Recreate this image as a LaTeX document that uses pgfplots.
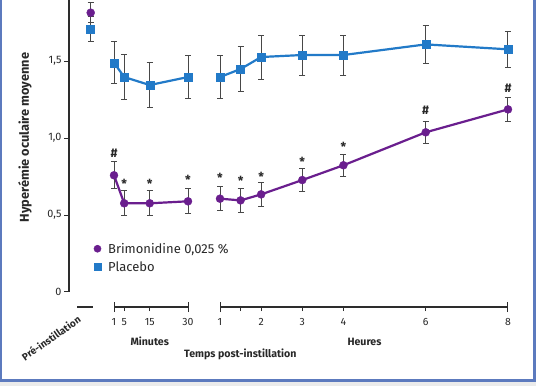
\documentclass[border=0pt]{standalone}
\usepackage{fontspec}
\setmainfont{Fira Sans}
\usepackage{pgfplots}
\pgfplotsset{compat=1.18}
\definecolor{brim}{RGB}{106,30,142}
\definecolor{plac}{RGB}{34,122,200}
\definecolor{errc}{RGB}{72,72,72}
\definecolor{axc}{RGB}{45,45,45}
\definecolor{txtc}{RGB}{40,40,40}
\definecolor{framec}{RGB}{92,122,190}
\pgfplotsset{
  brimst/.style={color=brim, line width=2.2pt, mark=*, mark size=4pt,
    mark options={solid, fill=brim, draw=brim, line width=0.4pt},
    error bars/.cd, y dir=both, y explicit,
    error bar style={errc, line width=1pt},
    error mark options={errc, line width=1pt, mark size=3pt, rotate=90}},
  placst/.style={color=plac, line width=2.2pt, mark=square*, mark size=4pt,
    mark options={solid, fill=plac, draw=plac, line width=0.4pt},
    error bars/.cd, y dir=both, y explicit,
    error bar style={errc, line width=1pt},
    error mark options={errc, line width=1pt, mark size=3pt, rotate=90}},
  segaxis/.style={scale only axis, clip=false, anchor=south west,
    ymin=-0.0974, ymax=1.895, height=306.8pt,
    axis y line=none, axis x line=bottom,
    x axis line style={-, axc, line width=1.1pt},
    xtick align=outside, major tick length=4pt,
    tick style={axc, line width=1pt},
    ytick=\empty,
    tick label style={font=\fontsize{10.5}{12}\selectfont, text=txtc},
    xticklabel style={yshift=-4pt},
    /pgf/number format/assume math mode=true}
}
\tikzset{ann/.style={font=\bfseries\fontsize{12.5}{14}\selectfont, text=txtc},
  lab/.style={font=\bfseries\fontsize{10.6}{12}\selectfont, text=txtc}}
\begin{document}
\begin{tikzpicture}[x=1pt,y=1pt]
\useasboundingbox (0,0) rectangle (536,386);
\fill[white] (0,0) rectangle (536,386);
\fill[black!8] (0,0) rectangle (536,4.3);
\fill[framec] (0,4.3) rectangle (536,6.7);
\fill[framec] (0,4.3) rectangle (2.4,386);
\fill[framec] (533.4,4.3) rectangle (536,386);

% y axis and legend
\begin{axis}[scale only axis, clip=false, anchor=south west, at={(69pt,94pt)},
  xmin=69, xmax=536, width=467pt, ymin=0, ymax=1.895, height=291.8pt,
  axis x line=none, axis y line=left,
  y axis line style={-, axc, line width=1.1pt},
  ytick={0,0.5,1,1.5}, yticklabels={0,{0,5},{1,0},{1,5}},
  ytick align=outside, major tick length=5pt,
  tick style={axc, line width=1pt},
  tick label style={font=\fontsize{10.8}{12}\selectfont, text=txtc},
  yticklabel style={xshift=1pt},
  /pgf/number format/assume math mode=true,
  legend style={draw=none, fill=none, at={(axis cs:93.7,0.333)}, anchor=north west,
    font=\fontsize{13}{15}\selectfont, text=txtc, row sep=3pt, column sep=5pt,
    inner sep=0pt},
  legend cell align=left,
  legend image code/.code={\draw[#1] plot coordinates {(0pt,0pt)};}
]
\addlegendimage{only marks, mark=*, mark size=3.6pt, color=brim, fill=brim}
\addlegendentry{Brimonidine 0,025 \%}
\addlegendimage{only marks, mark=square*, mark size=3.5pt, color=plac, fill=plac}
\addlegendentry{Placebo}
\end{axis}

% pre-instillation
\begin{axis}[segaxis, at={(77.3pt,79pt)}, xmin=0, xmax=1, width=15.4pt, xtick=\empty]
\addplot[placst] coordinates {(0.87,1.708) +- (0,0.083)};
\addplot[brimst] coordinates {(0.87,1.814) +- (0,0.065)};
\end{axis}

% minutes
\begin{axis}[segaxis, at={(114pt,79pt)}, xmin=1, xmax=30, width=74pt,
  xtick={1,5,15,30},
  extra x ticks={1,30}, extra x tick labels={},
  extra x tick style={xtick align=center, major tick length=10pt}]
\addplot[placst] coordinates {(1,1.489) +- (0,0.137) (5,1.396) +- (0,0.147)
  (15,1.344) +- (0,0.146) (30,1.396) +- (0,0.142)};
\addplot[brimst] coordinates {(1,0.758) +- (0,0.088) (5,0.576) +- (0,0.08)
  (15,0.576) +- (0,0.08) (30,0.589) +- (0,0.08)};
\node[ann] at (axis cs:1,0.90) {\#};
\node[ann, yshift=-2.5pt] at (axis cs:5,0.716) {*};
\node[ann, yshift=-2.5pt] at (axis cs:15,0.716) {*};
\node[ann, yshift=-2.5pt] at (axis cs:30,0.742) {*};
\end{axis}

% hours
\begin{axis}[segaxis, at={(220pt,79pt)}, xmin=1, xmax=8, width=288pt,
  xtick={1,1.5,2,3,4,6,8}, xticklabels={1,,2,3,4,6,8},
  extra x ticks={1,8}, extra x tick labels={},
  extra x tick style={xtick align=center, major tick length=10pt}]
\addplot[placst] coordinates {(1,1.396) +- (0,0.142) (1.5,1.448) +- (0,0.149)
  (2,1.526) +- (0,0.143) (3,1.539) +- (0,0.13) (4,1.539) +- (0,0.13)
  (6,1.608) +- (0,0.122) (8,1.576) +- (0,0.115)};
\addplot[brimst] coordinates {(1,0.606) +- (0,0.078) (1.5,0.595) +- (0,0.076)
  (2,0.634) +- (0,0.076) (3,0.727) +- (0,0.073) (4,0.823) +- (0,0.073)
  (6,1.037) +- (0,0.073) (8,1.186) +- (0,0.08)};
\node[ann, yshift=-2.5pt] at (axis cs:1,0.76) {*};
\node[ann, yshift=-2.5pt] at (axis cs:1.5,0.738) {*};
\node[ann, yshift=-2.5pt] at (axis cs:2,0.766) {*};
\node[ann, yshift=-2.5pt] at (axis cs:3,0.862) {*};
\node[ann, yshift=-2.5pt] at (axis cs:4,0.959) {*};
\node[ann] at (axis cs:6,1.182) {\#};
\node[ann] at (axis cs:8,1.323) {\#};
\end{axis}

% labels
\node[rotate=90, font=\bfseries\fontsize{12.8}{14}\selectfont, text=txtc] at (25,248.5) {Hyperémie oculaire moyenne};
\node[lab] at (149.7,44.3) {Minutes};
\node[lab] at (364.5,44.3) {Heures};
\node[lab] at (240.3,31.7) {Temps post-instillation};
\node[rotate=35, font=\bfseries\fontsize{10}{12}\selectfont, text=txtc] at (51,48) {Pré-instillation};
\end{tikzpicture}
\end{document}
